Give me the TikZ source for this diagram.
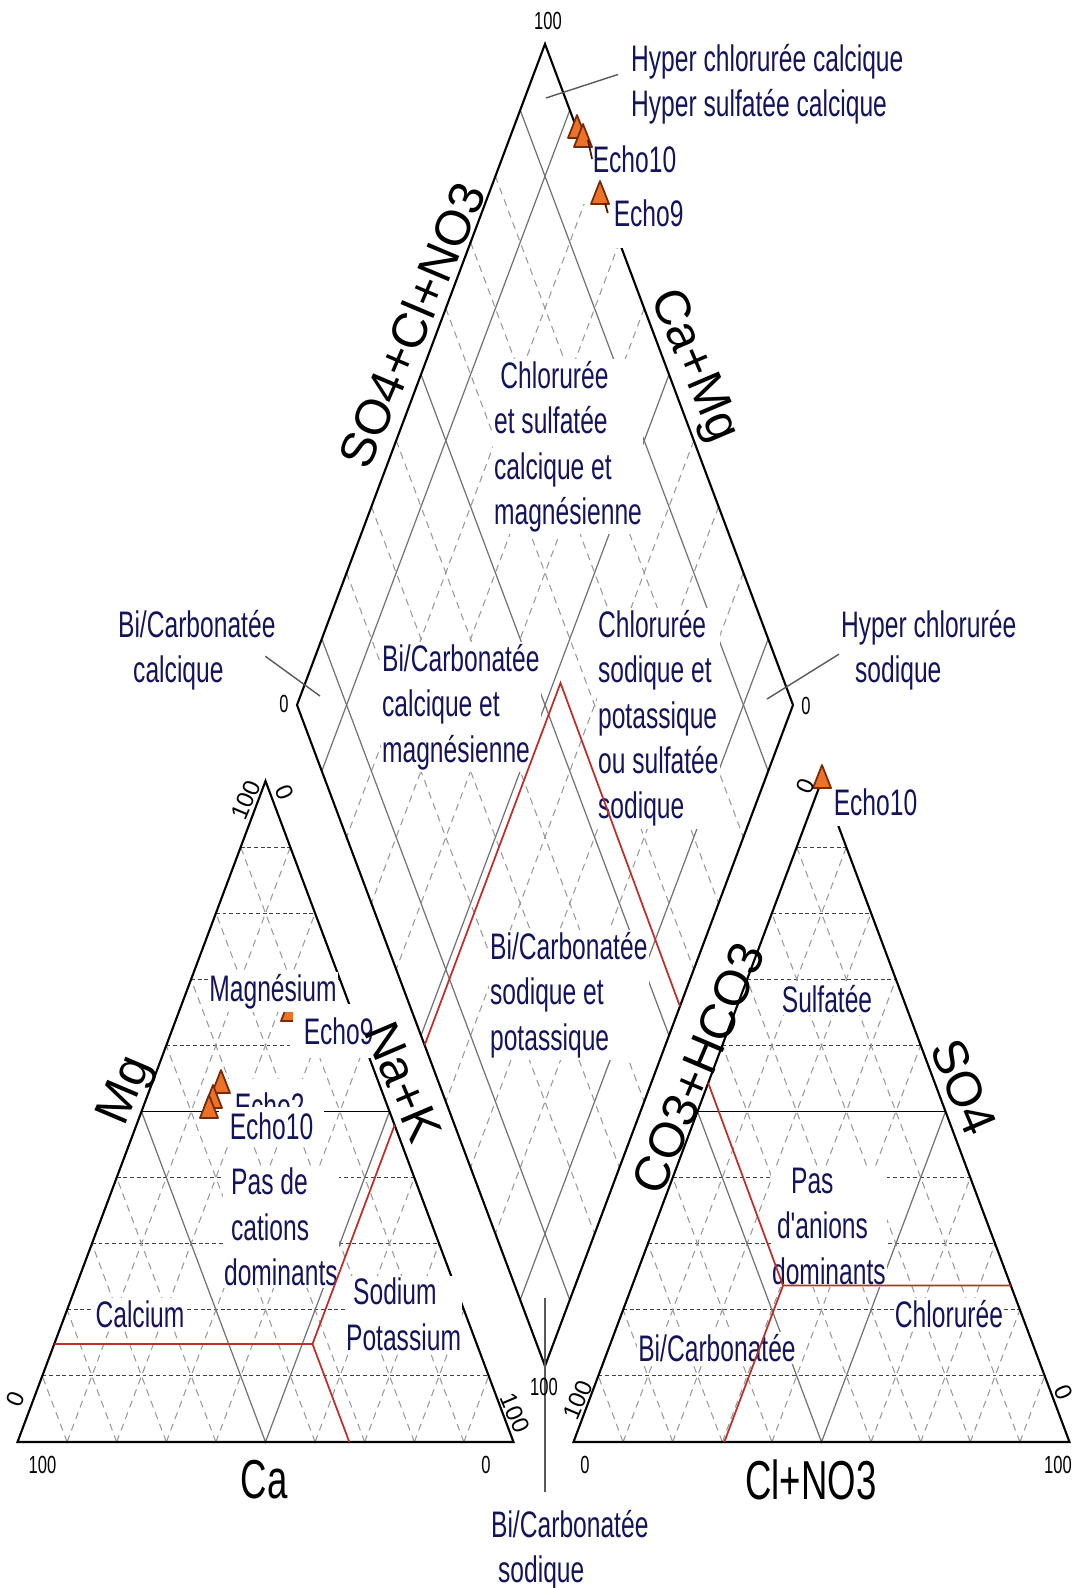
\documentclass[tikz,border=0pt]{standalone}
\usepackage{fontspec}
\setmainfont{Liberation Sans}
\usetikzlibrary{calc}

\definecolor{navy}{RGB}{20,20,92}
\definecolor{rougelim}{RGB}{188,48,40}
\definecolor{orangepiper}{RGB}{236,114,40}
\definecolor{brunpiper}{RGB}{120,42,8}

\begin{document}
\begin{tikzpicture}[
    x=0.01cm, y=-0.01cm,    % 1 unite = 1 pixel de l'image, y vers le bas
    bord/.style={line width=0.6pt, black},
    moitie/.style={line width=0.35pt, black!55},
    grilleh/.style={line width=0.3pt, black!75, dash pattern=on 1.1pt off 0.8pt},
    grille/.style={line width=0.3pt, black!40, dash pattern=on 2pt off 1.5pt},
    limite/.style={line width=0.5pt, rougelim},
    renvoi/.style={line width=0.4pt, black!65},
    zone/.style={text=navy, font=\fontsize{7}{8.6}\selectfont, yscale=1.5, fill=white, inner sep=0.4pt, align=left},
    echo/.style={text=navy, font=\fontsize{7}{8.6}\selectfont, yscale=1.5, fill=white, inner xsep=3pt, inner ysep=2.5pt, anchor=west},
    titre/.style={font=\fontsize{10.4}{12}\selectfont, yscale=1.5, inner sep=0pt},
    titreincl/.style={font=\fontsize{14}{16}\selectfont, inner sep=0pt},
    grad/.style={font=\fontsize{4.7}{5.6}\selectfont, yscale=1.5, inner sep=0pt},
    gradincl/.style={font=\fontsize{6.8}{8}\selectfont, inner sep=0pt},
    symb/.style={fill=orangepiper, draw=brunpiper, line width=0.5pt, line join=round},
]
\useasboundingbox (0,0) rectangle (1074,1588);

% --- Triangle des cations ---
\coordinate (ca) at (17.5,1442);
\coordinate (nak) at (513.5,1442);
\coordinate (mg) at (265.5,781);
\foreach \f in {0.1,0.2,0.3,0.4,0.6,0.7,0.8,0.9}{
    \draw[grille] ($(ca)!\f!(nak)$) -- ($(mg)!\f!(nak)$);
    \draw[grille] ($(ca)!\f!(nak)$) -- ($(ca)!\f!(mg)$);
    \draw[grilleh] ($(ca)!\f!(mg)$) -- ($(nak)!\f!(mg)$);
}
\draw[moitie] ($(ca)!0.5!(mg)$) -- ($(ca)!0.5!(nak)$) -- ($(nak)!0.5!(mg)$);
\draw[bord, line width=0.45pt] ($(ca)!0.5!(mg)$) -- ($(nak)!0.5!(mg)$);
\draw[bord] (ca) -- (nak) -- (mg) -- cycle;

% --- Triangle des anions ---
\coordinate (hco) at (573.5,1442);
\coordinate (cl) at (1069.5,1442);
\coordinate (so) at (821.5,781);
\foreach \f in {0.1,0.2,0.3,0.4,0.6,0.7,0.8,0.9}{
    \draw[grille] ($(hco)!\f!(cl)$) -- ($(so)!\f!(cl)$);
    \draw[grille] ($(hco)!\f!(cl)$) -- ($(hco)!\f!(so)$);
    \draw[grilleh] ($(hco)!\f!(so)$) -- ($(cl)!\f!(so)$);
}
\draw[moitie] ($(hco)!0.5!(so)$) -- ($(hco)!0.5!(cl)$) -- ($(cl)!0.5!(so)$);
\draw[bord, line width=0.45pt] ($(hco)!0.5!(so)$) -- ($(cl)!0.5!(so)$);
\draw[bord] (hco) -- (cl) -- (so) -- cycle;

% --- Losange ---
\coordinate (dt) at (545,44);
\coordinate (dl) at (297,705);
\coordinate (db) at (545,1366);
\coordinate (dr) at (793,705);
\foreach \f in {0.2,0.3,0.4,0.6,0.7,0.8}{
    \draw[grille] ($(dt)!\f!(dl)$) -- ($(dr)!\f!(db)$);
    \draw[grille] ($(dt)!\f!(dr)$) -- ($(dl)!\f!(db)$);
}
\foreach \f in {0.1,0.5,0.9}{
    \draw[moitie] ($(dt)!\f!(dl)$) -- ($(dr)!\f!(db)$);
    \draw[moitie] ($(dt)!\f!(dr)$) -- ($(dl)!\f!(db)$);
}
\draw[bord] (dt) -- (dr) -- (db) -- (dl) -- cycle;

% point cache sous l'etiquette Magnesium
\filldraw[symb] (290,998) -- ++(-9,23) -- ++(18,0) -- cycle;

% --- Etiquettes des echantillons ---
\node[echo, inner ysep=6pt] (e10a) at (581.5,159) {Echo10};
\node[echo, inner ysep=4pt] (e9a) at (602.5,213) {Echo9};
\node[echo, inner ysep=2pt] (e10b) at (822.5,802) {Echo10};
\node[echo] (e9c) at (292.5,1031) {Echo9};
\node[echo] (e2c) at (223.5,1106) {Echo2};
\node[echo, inner ysep=1pt] (e10c) at (218.5,1126) {Echo10};

% --- Facies ---
\node[zone, anchor=north west] (hypca) at (629,41) {Hyper chlorurée calcique\\Hyper sulfatée calcique};
\node[zone, anchor=north west] (cse) at (492,358) {\hspace*{1.8pt}Chlorurée\\et sulfatée\\calcique et\\magnésienne};
\node[zone, anchor=north west] (bcm) at (380,641) {Bi/Carbonatée\\calcique et\\magnésienne};
\node[zone, anchor=north west] (csp) at (596,607) {Chlorurée\\sodique et\\potassique\\ou sulfatée\\sodique};
\node[zone, anchor=north west] (bsp) at (488,929) {Bi/Carbonatée\\sodique et\\potassique};
\node[zone, anchor=north west] (bcc) at (116,607) {Bi/Carbonatée\\\hspace*{4.3pt}calcique};
\node[zone, anchor=north west] (hcs) at (839,607) {Hyper chlorurée\\\hspace*{4pt}sodique};
\node[zone, anchor=north west] (bcs) at (489,1507) {Bi/Carbonatée\\\hspace*{2pt}sodique};

\node[zone] (mgz) at (273,992) {Magnésium};
\node[zone, anchor=north west] (pasc) at (222,1165) {\hspace*{2pt}Pas de\\\hspace*{2pt}cations\\dominants};
\node[zone] (calc) at (140,1314) {Calcium};
\node[zone, anchor=north west] (sodp) at (344,1275) {\hspace*{2pt}Sodium\\Potassium};
\node[zone] (sulf) at (827,999) {Sulfatée};
\node[zone, anchor=north west] (pasa) at (770,1165) {\hspace*{5.4pt}Pas\\\hspace*{1.4pt}d\textquotesingle anions\\dominants};
\node[zone] (chlo) at (949,1314) {Chlorurée};
\node[zone] (bica) at (717,1348) {Bi/Carbonatée};

% --- Renvois ---
\coordinate (hypca-pt) at (546,98);
\coordinate (bcc-pt) at (320,696);
\coordinate (hcs-pt) at (767,699);
\coordinate (bcs-pt) at (545,1298);
\draw[renvoi] ([xshift=-3.1pt,yshift=2.8pt]hypca.west) -- (hypca-pt);
\draw[renvoi] ([xshift=-3.5pt,yshift=-1.7pt]bcc.east) -- (bcc-pt);
\draw[renvoi] ([yshift=-1.1pt]hcs.west) -- (hcs-pt);
\draw[renvoi] (bcs-pt) -- ($(bcs-pt |- bcs.north)+(0,-15)$);

% --- Limites des facies (rouge) ---
\coordinate (j1) at (312.5,1344);
\coordinate (k) at (560.5,683);
\coordinate (j2) at (783,1285.5);
\draw[limite] (54.3,1344) -- (j1) -- (349.3,1442);
\draw[limite] (j1) -- (394.6,1125.1);
\draw[limite] (424.6,1045.2) -- (k) -- (679.9,1006.3);
\draw[limite] (708.2,1082.9) -- (j2) -- (1010.8,1285.5);
\draw[limite] (j2) -- (724.3,1442);

% --- Echantillons ---
\foreach \px/\py in {577/115, 583/124, 600/181, 822/765, 221/1070, 213/1085, 209/1095}
    \filldraw[symb] (\px,\py) -- ++(-9,23) -- ++(18,0) -- cycle;
\coordinate (m10a) at (588,140);
\coordinate (m9a) at (605,203);
\draw[line width=0.5pt, brunpiper!60!black] (m10a) -- ([xshift=3pt]e10a.west);
\draw[line width=0.5pt, brunpiper!60!black] (m9a) -- ([xshift=1.5pt]e9a.west);

% --- Titres des axes ---
\node[titreincl, rotate=67] (t-anion) at (412,325) {SO4+Cl+NO3};
\node[titreincl, rotate=-67] (t-cation) at (693,366) {Ca+Mg};
\node[titreincl, rotate=67] (t-mg) at (127,1091) {Mg};
\node[titreincl, rotate=-67] (t-na) at (403,1082) {Na+K};
\node[titreincl, rotate=67] (t-co3) at (698,1068) {CO3+HCO3};
\node[titreincl, rotate=-67] (t-so4) at (964,1087) {SO4};
\node[titre] (t-ca) at (264,1480) {Ca};
\node[titre] (t-cl) at (811,1480) {Cl+NO3};

% --- Graduations ---
\node[grad] (g1) at (548,21) {100};
\node[grad] (g2) at (284,704) {0};
\node[grad] (g3) at (806,706) {0};
\node[grad] (g4) at (544,1387) {100};
\node[gradincl, rotate=67] (g5) at (246,800) {100};
\node[gradincl, rotate=-67] (g6) at (285,792) {0};
\node[gradincl, rotate=67] (g7) at (16,1399) {0};
\node[gradincl, rotate=-67] (g8) at (515,1413) {100};
\node[grad] (g9) at (42.5,1465) {100};
\node[grad] (g10) at (486,1465) {0};
\node[gradincl, rotate=67] (g11) at (806,786) {0};
\node[gradincl, rotate=67] (g12) at (578,1400) {100};
\node[gradincl, rotate=-67] (g13) at (1064,1392) {0};
\node[grad] (g14) at (585,1465) {0};
\node[grad] (g15) at (1058,1465) {100};

\end{tikzpicture}
\end{document}
